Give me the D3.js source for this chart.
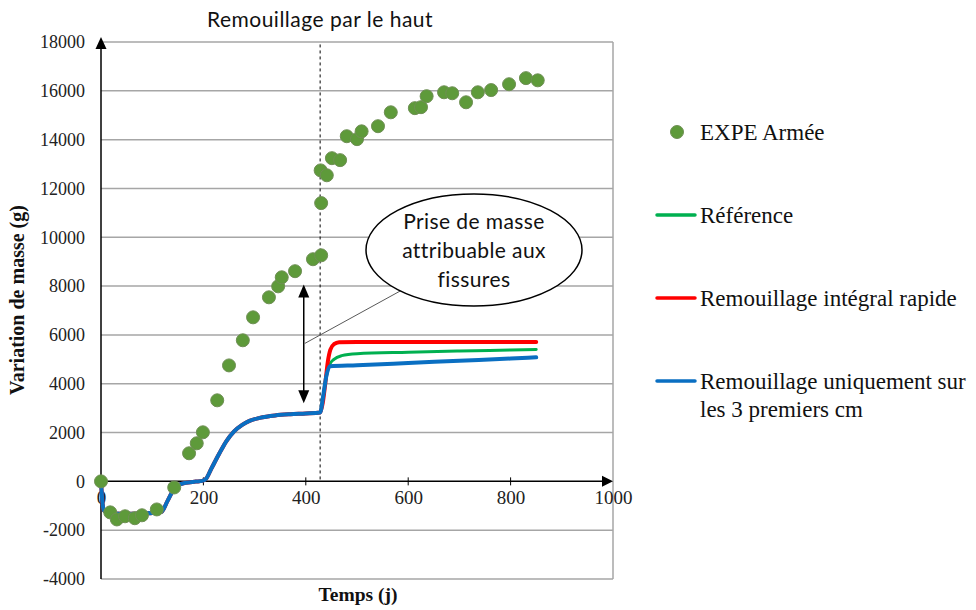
<!DOCTYPE html>
<html>
<head>
<meta charset="utf-8">
<script src="https://cdn.jsdelivr.net/npm/d3@7"></script>
<style>
  html, body { margin: 0; padding: 0; background: #fff; }
  svg { display: block; }
</style>
</head>
<body>
<div id="chart"></div>
<script>
// Mass variation over time, top rewetting test
const chartTitle = "Remouillage par le haut";
const xTicks = [0, 200, 400, 600, 800, 1000];
const yTicks = [-4000, -2000, 0, 2000, 4000, 6000, 8000, 10000, 12000, 14000, 16000, 18000];

// Measured points (days, grams)
const expeDays = [0, 18, 31, 47, 66, 80, 109, 143, 172, 187, 199, 227, 250, 277, 297, 328, 346, 353, 379, 414, 430,
  430, 429, 441, 451, 467, 480, 500, 509, 541, 566, 613, 625, 636, 670, 686, 713, 736, 762, 797, 830, 853];
const expeMass = [0, -1270, -1560, -1430, -1510, -1390, -1150, -250, 1150, 1560, 2010, 3320, 4750, 5780, 6720, 7540, 7990, 8360, 8610, 9100, 9260,
  11400, 12740, 12540, 13240, 13160, 14140, 14020, 14340, 14550, 15120, 15290, 15330, 15780, 15940, 15900, 15530, 15940, 16030, 16270, 16520, 16430];

// Simulated curves: common part before re-wetting (day 428)
const baseDays = [0, 3, 6, 15, 40, 80, 110, 118, 130, 140, 150, 165, 185, 198, 205, 215, 230, 245, 260, 275, 290, 310, 340, 370, 400, 428];
const baseMass = [0, -900, -1200, -1300, -1330, -1320, -1280, -1250, -800, -400, -180, -60, -10, 20, 100, 500, 1100, 1650, 2050, 2300, 2480, 2600, 2700, 2750, 2780, 2820];

const refDays = [434, 440, 447, 455, 470, 500, 600, 700, 800, 850];
const refMass = [3500, 4300, 4800, 5000, 5150, 5230, 5290, 5340, 5380, 5400];

const rapideDays = [433, 438, 443, 448, 455, 465, 500, 850];
const rapideMass = [3200, 4000, 4900, 5400, 5620, 5700, 5710, 5710];

const surfaceDays = [434, 440, 447, 500, 600, 700, 800, 850];
const surfaceMass = [3500, 4300, 4720, 4760, 4850, 4940, 5030, 5080];

const rewetDay = 428;
const arrowDay = 396, arrowTop = 8070, arrowBottom = 3200;
const leaderStart = [398, 5650];

const seriesNames = ["EXPE Armée", "Référence", "Remouillage intégral rapide", "Remouillage uniquement sur", "les 3 premiers cm"];
const bubbleLines = ["Prise de masse", "attribuable aux", "fissures"];

const W = 976, H = 610;
const svg = d3.select("#chart").append("svg").attr("width", W).attr("height", H);

const x = d3.scaleLinear().domain([0, 1000]).range([101, 613]);
const y = d3.scaleLinear().domain([-4000, 18000]).range([579, 42]);

const serif = "'Liberation Serif', 'Times New Roman', serif";
const sans = "Lato, 'Open Sans', sans-serif";

// gridlines
svg.append("g").selectAll("line").data(yTicks.filter(d => d !== 0)).join("line")
  .attr("x1", x(0)).attr("x2", x(1000))
  .attr("y1", d => y(d)).attr("y2", d => y(d))
  .attr("stroke", "#a6a6a6").attr("stroke-width", 1.5);
// right border
svg.append("line").attr("x1", x(1000)).attr("x2", x(1000)).attr("y1", y(18000)).attr("y2", y(-4000))
  .attr("stroke", "#a6a6a6").attr("stroke-width", 1.5);

// y tick labels
svg.append("g").selectAll("text").data(yTicks).join("text")
  .attr("x", 85).attr("y", d => y(d)).attr("dy", "0.35em")
  .attr("text-anchor", "end").attr("font-family", serif).attr("font-size", 18).attr("fill", "#222")
  .text(d => d);

// x axis with ticks
const xAxis = d3.axisBottom(x).tickValues(xTicks).tickSize(0).tickFormat(d => d);
const xg = svg.append("g").attr("transform", `translate(0,${y(0)})`).call(xAxis);
xg.select(".domain").remove();
xg.selectAll("text").attr("font-family", serif).attr("font-size", 19).attr("fill", "#222").attr("dy", "1.05em");
svg.append("g").selectAll("line").data(xTicks.slice(1, -1)).join("line")
  .attr("x1", d => x(d)).attr("x2", d => x(d)).attr("y1", y(0) - 4).attr("y2", y(0) + 4)
  .attr("stroke", "#000").attr("stroke-width", 1);
svg.append("line").attr("x1", x(0)).attr("x2", x(1000) - 6).attr("y1", y(0)).attr("y2", y(0))
  .attr("stroke", "#000").attr("stroke-width", 1.5);
svg.append("path")
  .attr("d", `M${x(1000)},${y(0)} l-11,-5.5 l0,11 z`).attr("fill", "#000");

// y axis with arrow
svg.append("line").attr("x1", x(0)).attr("x2", x(0)).attr("y1", y(-4000)).attr("y2", y(18000))
  .attr("stroke", "#000").attr("stroke-width", 1.5);
svg.append("path")
  .attr("d", `M${x(0)},${y(18000) - 5} l-5.5,12 l11,0 z`).attr("fill", "#000");

// re-wetting date
svg.append("line").attr("x1", x(rewetDay)).attr("x2", x(rewetDay)).attr("y1", y(17900)).attr("y2", y(0))
  .attr("stroke", "#000").attr("stroke-width", 1).attr("stroke-dasharray", "3,3");

// simulation curves
const line = d3.line().x(d => x(d[0])).y(d => y(d[1])).curve(d3.curveMonotoneX);
const base = d3.zip(baseDays, baseMass);
const curves = [
  { color: "#00b050", width: 3, pts: base.concat(d3.zip(refDays, refMass)) },
  { color: "#ff0000", width: 4, pts: base.concat(d3.zip(rapideDays, rapideMass)) },
  { color: "#0a6fc2", width: 4, pts: base.concat(d3.zip(surfaceDays, surfaceMass)) }
];
svg.append("g").selectAll("path").data(curves).join("path")
  .attr("d", d => line(d.pts))
  .attr("fill", "none").attr("stroke", d => d.color).attr("stroke-width", d => d.width)
  .attr("stroke-linejoin", "round").attr("stroke-linecap", "round");

// measured points
svg.append("g").selectAll("circle").data(d3.zip(expeDays, expeMass)).join("circle")
  .attr("cx", d => x(d[0])).attr("cy", d => y(d[1])).attr("r", 6.5)
  .attr("fill", "#5e9a3a").attr("stroke", "#6f8f55").attr("stroke-width", 1);

// double arrow and leader line
svg.append("line").attr("x1", x(arrowDay)).attr("x2", x(arrowDay)).attr("y1", y(arrowTop) + 10).attr("y2", y(arrowBottom) - 10)
  .attr("stroke", "#000").attr("stroke-width", 1.5);
svg.append("path").attr("d", `M${x(arrowDay)},${y(arrowTop)} l-5.5,13 l11,0 z`).attr("fill", "#000");
svg.append("path").attr("d", `M${x(arrowDay)},${y(arrowBottom)} l-5.5,-13 l11,0 z`).attr("fill", "#000");
svg.append("line").attr("x1", x(leaderStart[0])).attr("y1", y(leaderStart[1])).attr("x2", 402).attr("y2", 290)
  .attr("stroke", "#595959").attr("stroke-width", 1);

// callout bubble
svg.append("ellipse").attr("cx", 474).attr("cy", 250).attr("rx", 108).attr("ry", 56)
  .attr("fill", "#fff").attr("stroke", "#000").attr("stroke-width", 1.5);
svg.append("g").selectAll("text").data(bubbleLines).join("text")
  .attr("x", 474).attr("y", (d, i) => 222 + i * 29).attr("dy", "0.35em")
  .attr("text-anchor", "middle").attr("font-family", sans).attr("font-size", 21).attr("letter-spacing", 0.4).attr("fill", "#111")
  .text(d => d);

// title
svg.append("text").attr("x", 320).attr("y", 20).attr("dy", "0.35em").attr("text-anchor", "middle")
  .attr("font-family", sans).attr("font-size", 21).attr("letter-spacing", 0.5).attr("fill", "#111").text(chartTitle);

// axis titles
svg.append("text").attr("x", 358).attr("y", 594).attr("dy", "0.35em").attr("text-anchor", "middle")
  .attr("font-family", serif).attr("font-weight", "bold").attr("font-size", 19.5).attr("fill", "#111").text("Temps (j)");
svg.append("text").attr("transform", "translate(17,300) rotate(-90)").attr("dy", "0.35em").attr("text-anchor", "middle")
  .attr("font-family", serif).attr("font-weight", "bold").attr("font-size", 20).attr("fill", "#111").text("Variation de masse (g)");

// legend
const lg = svg.append("g").attr("font-family", serif).attr("font-size", 23).attr("fill", "#111");
lg.append("circle").attr("cx", 677).attr("cy", 132).attr("r", 6.5).attr("fill", "#5e9a3a").attr("stroke", "#6f8f55");
lg.append("text").attr("x", 700).attr("y", 132).attr("dy", "0.35em").text(seriesNames[0]);
const legendLines = [
  { color: "#00b050", y: 215, label: seriesNames[1] },
  { color: "#ff0000", y: 298, label: seriesNames[2] },
  { color: "#0a6fc2", y: 381, label: seriesNames[3] }
];
legendLines.forEach(d => {
  lg.append("line").attr("x1", 657).attr("x2", 695).attr("y1", d.y).attr("y2", d.y)
    .attr("stroke", d.color).attr("stroke-width", 3.5).attr("stroke-linecap", "round");
  lg.append("text").attr("x", 700).attr("y", d.y).attr("dy", "0.35em").text(d.label);
});
lg.append("text").attr("x", 700).attr("y", 409).attr("dy", "0.35em").text(seriesNames[4]);
</script>
</body>
</html>
